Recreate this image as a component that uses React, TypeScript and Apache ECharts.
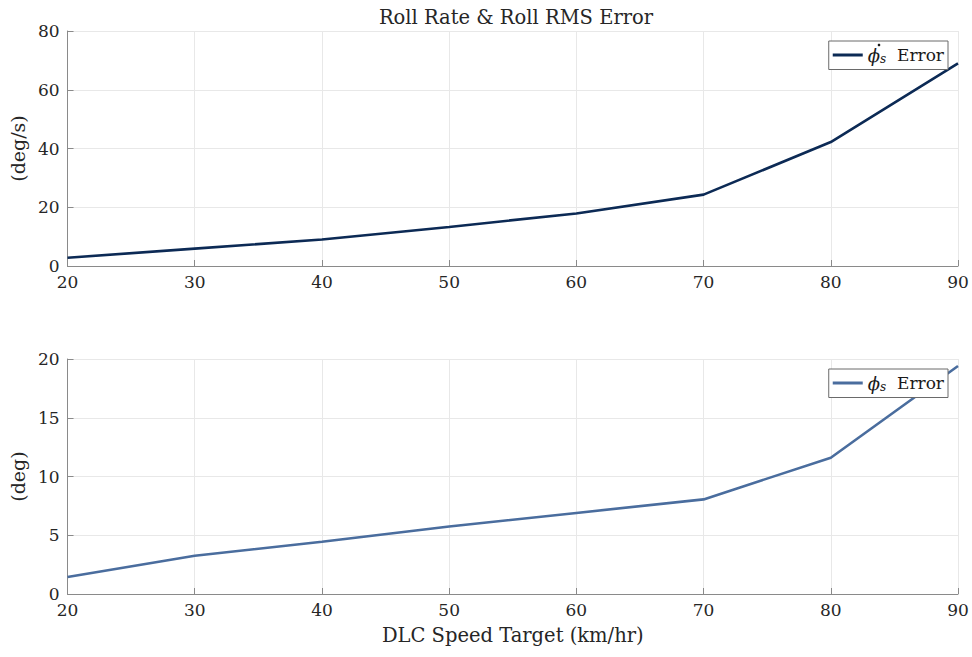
import React, { useEffect, useRef } from "react";
import * as echarts from "echarts";

const speeds = [20, 30, 40, 50, 60, 70, 80, 90];
const rollRateErr = [2.8, 5.9, 9.0, 13.3, 17.9, 24.3, 42.2, 69.0];
const rollErr = [1.45, 3.25, 4.45, 5.75, 6.9, 8.05, 11.6, 19.4];
const xTicks = { min: 20, max: 90, interval: 10 };
const yTopTicks = { min: 0, max: 80, interval: 20 };
const yBotTicks = { min: 0, max: 20, interval: 5 };

const FONT = "'DejaVu Serif', 'Liberation Serif', serif";
const TXT = "#262626";

export default function App() {
  const ref = useRef<HTMLDivElement>(null);
  useEffect(() => {
    if (!ref.current) return;
    const chart = echarts.init(ref.current, undefined, { renderer: "svg" });
    const xAxisBase = (gridIndex: number, name?: string) => ({
      type: "value",
      gridIndex,
      min: xTicks.min,
      max: xTicks.max,
      interval: xTicks.interval,
      name,
      nameLocation: "middle",
      nameGap: 31,
      nameTextStyle: { fontFamily: FONT, fontSize: 19.5, color: TXT },
      axisLine: { show: true, lineStyle: { color: "#8a8a8a", width: 1 } },
      axisTick: { show: true, inside: true, length: 6, lineStyle: { color: "#8a8a8a" } },
      axisLabel: { fontFamily: FONT, fontSize: 17, color: TXT, margin: 7 },
      splitLine: { show: true, lineStyle: { color: "#e8e8e8", width: 1 } },
    });
    const yAxisBase = (gridIndex: number, t: any, name: string) => ({
      type: "value",
      gridIndex,
      min: t.min,
      max: t.max,
      interval: t.interval,
      name,
      nameLocation: "middle",
      nameGap: 36,
      nameRotate: 90,
      nameTextStyle: { fontFamily: FONT, fontSize: 19, color: TXT },
      axisLine: { show: true, lineStyle: { color: "#8a8a8a", width: 1 } },
      axisTick: { show: true, inside: true, length: 6, lineStyle: { color: "#8a8a8a" } },
      axisLabel: { fontFamily: FONT, fontSize: 17, color: TXT, margin: 8 },
      splitLine: { show: true, lineStyle: { color: "#e8e8e8", width: 1 } },
    });
    const legendBase = {
      right: 24,
      orient: "vertical",
      backgroundColor: "#fff",
      borderColor: "#6a6a6a",
      borderWidth: 1,
      borderRadius: 0,
      padding: [5, 4, 5, 4],
      itemWidth: 30,
      itemHeight: 3,
      icon: "rect",
      textStyle: {
        fontFamily: FONT,
        fontSize: 17,
        color: "#1a1a1a",
        rich: {
          phi: { fontFamily: FONT, fontSize: 18, fontStyle: "italic", color: "#1a1a1a" },
          sub: { fontFamily: FONT, fontSize: 12, fontStyle: "italic", color: "#1a1a1a", verticalAlign: "bottom", padding: [7, 0, 0, 0] },
          t: { fontFamily: FONT, fontSize: 17, color: "#1a1a1a" },
        },
      },
    };
    chart.setOption({
      animation: false,
      backgroundColor: "#fff",
      title: {
        text: "Roll Rate & Roll RMS Error",
        left: 511,
        textAlign: "center",
        top: 2,
        textStyle: { fontFamily: FONT, fontSize: 19.5, fontWeight: "normal", color: TXT },
      },
      grid: [
        { left: 65, right: 14, top: 31, height: 235 },
        { left: 65, right: 14, top: 359, height: 235 },
      ],
      xAxis: [xAxisBase(0), xAxisBase(1, "DLC Speed Target (km/hr)")],
      yAxis: [yAxisBase(0, yTopTicks, "(deg/s)"), yAxisBase(1, yBotTicks, "(deg)")],
      legend: [
        {
          ...legendBase,
          top: 41,
          data: ["rate"],
          formatter: () => "{phi|ϕ}{sub|s}{t|  Error}",
        },
        {
          ...legendBase,
          top: 369,
          data: ["roll"],
          formatter: () => "{phi|ϕ}{sub|s}{t|  Error}",
        },
      ],
      graphic: [
        {
          type: "circle",
          z: 100,
          shape: { cx: 879, cy: 45, r: 1.3 },
          style: { fill: "#1a1a1a" },
        },
      ],
      series: [
        {
          name: "rate",
          type: "line",
          xAxisIndex: 0,
          yAxisIndex: 0,
          data: speeds.map((s, i) => [s, rollRateErr[i]]),
          showSymbol: false,
          symbol: "none",
          lineStyle: { color: "#0c2a55", width: 2.6 },
          itemStyle: { color: "#0c2a55" },
        },
        {
          name: "roll",
          type: "line",
          xAxisIndex: 1,
          yAxisIndex: 1,
          data: speeds.map((s, i) => [s, rollErr[i]]),
          showSymbol: false,
          symbol: "none",
          lineStyle: { color: "#4a6d9e", width: 2.6 },
          itemStyle: { color: "#4a6d9e" },
        },
      ],
    });
    return () => chart.dispose();
  }, []);
  return <div ref={ref} style={{ width: 972, height: 657, position: "absolute", left: 0, top: 0 }} />;
}
